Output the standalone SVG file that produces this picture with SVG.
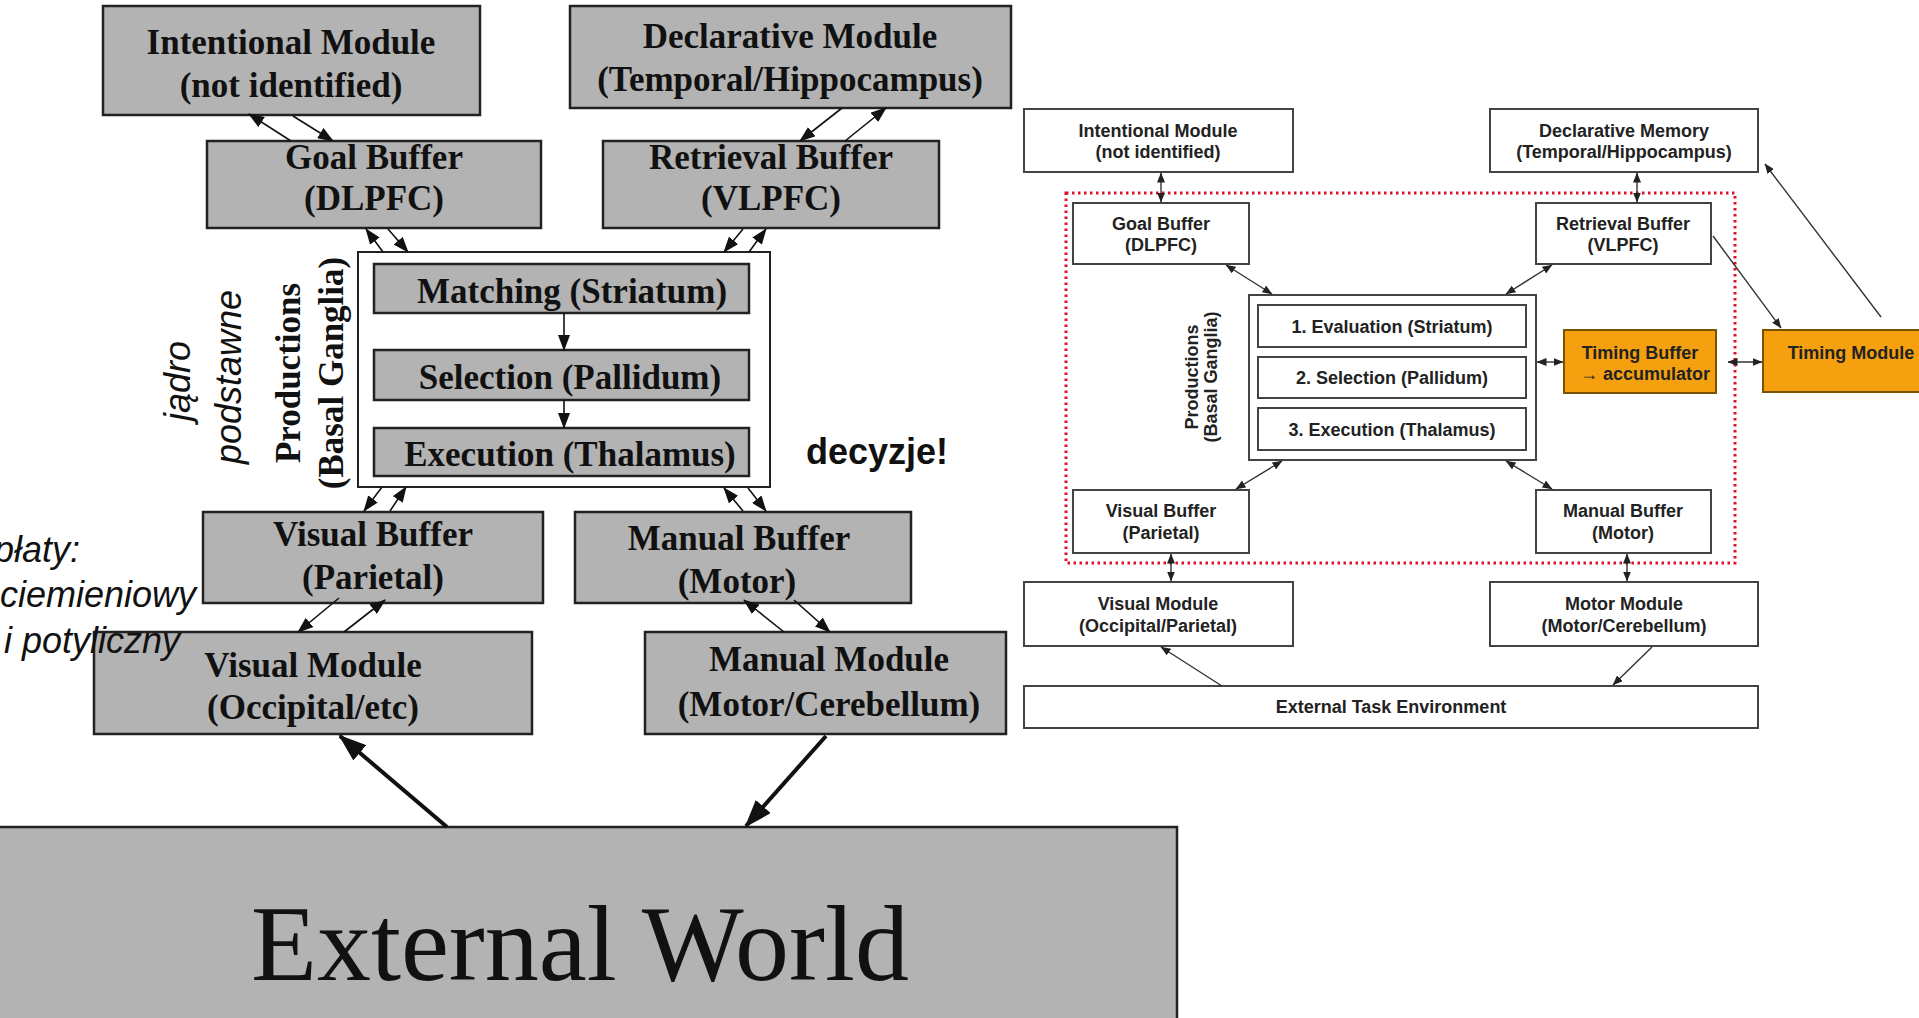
<svg xmlns="http://www.w3.org/2000/svg" width="1919" height="1018" viewBox="0 0 1919 1018">
<style>
.gb{fill:#b3b3b3;stroke:#222;stroke-width:2.5}
.wb{fill:#fff;stroke:#222;stroke-width:2}
.lt{font-family:"Liberation Serif",serif;font-weight:bold;font-size:35px;fill:#111;text-anchor:middle}
.it{font-family:"Liberation Sans",Arial,sans-serif;font-style:italic;font-size:36px;fill:#111}
.rb{fill:#fff;stroke:#444;stroke-width:2}
.ob{fill:#f5a10f;stroke:#7a5200;stroke-width:2}
.rt{font-family:"Liberation Sans",Arial,sans-serif;font-weight:bold;font-size:18px;fill:#222;text-anchor:middle}
.la{stroke:#111;stroke-width:1.6;fill:none;marker-end:url(#a1)}
.lb{stroke:#111;stroke-width:4;fill:none;marker-end:url(#a2)}
.ra{stroke:#333;stroke-width:1.4;fill:none;marker-end:url(#a3)}
.rd{stroke:#333;stroke-width:1.4;fill:none;marker-end:url(#a3);marker-start:url(#a3)}
</style>
<defs>
<marker id="a1" viewBox="0 0 16 12" refX="15" refY="6" markerWidth="16" markerHeight="12" orient="auto" markerUnits="userSpaceOnUse"><path d="M0,0 L16,6 L0,12 z" fill="#111"/></marker>
<marker id="a2" viewBox="0 0 28 20" refX="26" refY="10" markerWidth="28" markerHeight="20" orient="auto" markerUnits="userSpaceOnUse"><path d="M0,0 L28,10 L0,20 z" fill="#111"/></marker>
<marker id="a3" viewBox="0 0 10 8" refX="9.5" refY="4" markerWidth="10" markerHeight="8" orient="auto-start-reverse" markerUnits="userSpaceOnUse"><path d="M0,0 L10,4 L0,8 z" fill="#222"/></marker>
</defs>
<rect width="1919" height="1018" fill="#fff"/>

<!-- LEFT DIAGRAM -->
<g id="L-intentional"><rect class="gb" x="103" y="6" width="377" height="109"/><text class="lt" x="291" y="54">Intentional Module</text><text class="lt" x="291" y="97">(not identified)</text></g>
<g id="L-declarative"><rect class="gb" x="570" y="6" width="441" height="102"/><text class="lt" x="790" y="48">Declarative Module</text><text class="lt" x="790" y="91">(Temporal/Hippocampus)</text></g>
<g id="L-goal"><rect class="gb" x="207" y="141" width="334" height="87"/><text class="lt" x="374" y="169">Goal Buffer</text><text class="lt" x="374" y="210">(DLPFC)</text></g>
<g id="L-retrieval"><rect class="gb" x="603" y="141" width="336" height="87"/><text class="lt" x="771" y="169">Retrieval Buffer</text><text class="lt" x="771" y="210">(VLPFC)</text></g>
<g id="L-productions">
<rect class="wb" x="358" y="252" width="412" height="235"/>
<text class="lt" transform="translate(300,373) rotate(-90)">Productions</text>
<text class="lt" transform="translate(343,373) rotate(-90)">(Basal Ganglia)</text>
</g>
<g id="L-matching"><rect class="gb" x="374" y="264" width="375" height="49"/><text class="lt" x="572" y="303">Matching (Striatum)</text></g>
<g id="L-selection"><rect class="gb" x="374" y="350" width="375" height="50"/><text class="lt" x="570" y="389">Selection (Pallidum)</text></g>
<g id="L-execution"><rect class="gb" x="374" y="428" width="375" height="48"/><text class="lt" x="570" y="466">Execution (Thalamus)</text></g>
<g id="L-visualbuf"><rect class="gb" x="203" y="512" width="340" height="91"/><text class="lt" x="373" y="546">Visual Buffer</text><text class="lt" x="373" y="589">(Parietal)</text></g>
<g id="L-manualbuf"><rect class="gb" x="575" y="512" width="336" height="91"/><text class="lt" x="739" y="550">Manual Buffer</text><text class="lt" x="737" y="593">(Motor)</text></g>
<g id="L-visualmod"><rect class="gb" x="94" y="632" width="438" height="102"/><text class="lt" x="313" y="677">Visual Module</text><text class="lt" x="313" y="719">(Occipital/etc)</text></g>
<g id="L-manualmod"><rect class="gb" x="645" y="632" width="361" height="102"/><text class="lt" x="829" y="671">Manual Module</text><text class="lt" x="829" y="716">(Motor/Cerebellum)</text></g>
<g id="L-external"><rect class="gb" x="-3" y="827" width="1180" height="200"/><text x="580" y="980" font-family="'Liberation Serif',serif" font-size="108" fill="#111" text-anchor="middle">External World</text></g>

<g id="L-annotations">
<text class="it" transform="translate(190,381) rotate(-90)" text-anchor="middle">jądro</text>
<text class="it" transform="translate(241,377) rotate(-90)" text-anchor="middle">podstawne</text>
<text class="it" x="80" y="562" text-anchor="end">płaty:</text>
<text class="it" x="196" y="607" text-anchor="end">ciemieniowy</text>
<text class="it" x="180" y="653" text-anchor="end">i potyliczny</text>
<text x="806" y="464" font-family="'Liberation Sans',Arial,sans-serif" font-weight="bold" font-size="36" fill="#111">decyzje!</text>
</g>

<g id="L-connectors">
<line class="la" x1="291" y1="141" x2="249" y2="114"/>
<line class="la" x1="293" y1="116" x2="333" y2="141"/>
<line class="la" x1="842" y1="108" x2="800" y2="141"/>
<line class="la" x1="845" y1="141" x2="886" y2="108"/>
<line class="la" x1="383" y1="252" x2="366" y2="229"/>
<line class="la" x1="388" y1="229" x2="408" y2="252"/>
<line class="la" x1="743" y1="229" x2="724" y2="252"/>
<line class="la" x1="749" y1="252" x2="766" y2="229"/>
<line class="la" x1="564" y1="313" x2="564" y2="350"/>
<line class="la" x1="564" y1="400" x2="564" y2="428"/>
<line class="la" x1="382" y1="487" x2="364" y2="511"/>
<line class="la" x1="390" y1="511" x2="406" y2="487"/>
<line class="la" x1="743" y1="511" x2="724" y2="488"/>
<line class="la" x1="748" y1="488" x2="766" y2="511"/>
<line class="la" x1="339" y1="598" x2="298" y2="632"/>
<line class="la" x1="344" y1="632" x2="385" y2="600"/>
<line class="la" x1="784" y1="632" x2="744" y2="600"/>
<line class="la" x1="794" y1="600" x2="830" y2="632"/>
<line class="lb" x1="447" y1="827" x2="340" y2="736"/>
<line class="lb" x1="826" y1="736" x2="746" y2="826"/>
</g>

<!-- RIGHT DIAGRAM -->
<rect x="1066" y="193" width="669" height="370" fill="none" stroke="#e0102a" stroke-width="3" stroke-dasharray="2.5 3.5"/>
<g id="R-intentional"><rect class="rb" x="1024" y="109" width="269" height="63"/><text class="rt" x="1158" y="137">Intentional Module</text><text class="rt" x="1158" y="158">(not identified)</text></g>
<g id="R-declarative"><rect class="rb" x="1490" y="109" width="268" height="63"/><text class="rt" x="1624" y="137">Declarative Memory</text><text class="rt" x="1624" y="158">(Temporal/Hippocampus)</text></g>
<g id="R-goal"><rect class="rb" x="1073" y="203" width="176" height="61"/><text class="rt" x="1161" y="230">Goal Buffer</text><text class="rt" x="1161" y="251">(DLPFC)</text></g>
<g id="R-retrieval"><rect class="rb" x="1536" y="203" width="175" height="61"/><text class="rt" x="1623" y="230">Retrieval Buffer</text><text class="rt" x="1623" y="251">(VLPFC)</text></g>
<g id="R-productions">
<rect class="rb" x="1249" y="295" width="287" height="165"/>
<text class="rt" transform="translate(1198,377) rotate(-90)">Productions</text>
<text class="rt" transform="translate(1217,377) rotate(-90)">(Basal Ganglia)</text>
</g>
<g id="R-evaluation"><rect class="rb" x="1258" y="305" width="268" height="42"/><text class="rt" x="1392" y="333">1. Evaluation (Striatum)</text></g>
<g id="R-selection"><rect class="rb" x="1258" y="357" width="268" height="41"/><text class="rt" x="1392" y="384">2. Selection (Pallidum)</text></g>
<g id="R-execution"><rect class="rb" x="1258" y="408" width="268" height="42"/><text class="rt" x="1392" y="436">3. Execution (Thalamus)</text></g>
<g id="R-timingbuf"><rect class="ob" x="1564" y="330" width="152" height="63"/><text class="rt" x="1640" y="359">Timing Buffer</text><text class="rt" x="1645" y="380">→ accumulator</text></g>
<g id="R-timingmod"><rect class="ob" x="1763" y="330" width="180" height="62"/><text class="rt" x="1851" y="359">Timing Module</text></g>
<g id="R-visualbuf"><rect class="rb" x="1073" y="490" width="176" height="63"/><text class="rt" x="1161" y="517">Visual Buffer</text><text class="rt" x="1161" y="539">(Parietal)</text></g>
<g id="R-manualbuf"><rect class="rb" x="1536" y="490" width="175" height="63"/><text class="rt" x="1623" y="517">Manual Buffer</text><text class="rt" x="1623" y="539">(Motor)</text></g>
<g id="R-visualmod"><rect class="rb" x="1024" y="582" width="269" height="64"/><text class="rt" x="1158" y="610">Visual Module</text><text class="rt" x="1158" y="632">(Occipital/Parietal)</text></g>
<g id="R-motormod"><rect class="rb" x="1490" y="582" width="268" height="64"/><text class="rt" x="1624" y="610">Motor Module</text><text class="rt" x="1624" y="632">(Motor/Cerebellum)</text></g>
<g id="R-external"><rect class="rb" x="1024" y="686" width="734" height="42"/><text class="rt" x="1391" y="713">External Task Environment</text></g>

<g id="R-connectors">
<line class="rd" x1="1161" y1="173" x2="1161" y2="202"/>
<line class="rd" x1="1637" y1="173" x2="1637" y2="202"/>
<line class="rd" x1="1226" y1="265" x2="1272" y2="294"/>
<line class="rd" x1="1552" y1="265" x2="1506" y2="294"/>
<line class="ra" x1="1713" y1="236" x2="1781" y2="328"/>
<line class="ra" x1="1881" y1="317" x2="1765" y2="164"/>
<line class="rd" x1="1537" y1="362" x2="1563" y2="362"/>
<line class="rd" x1="1728" y1="362" x2="1762" y2="362"/>
<line class="rd" x1="1282" y1="461" x2="1236" y2="489"/>
<line class="rd" x1="1506" y1="461" x2="1552" y2="489"/>
<line class="rd" x1="1171" y1="554" x2="1171" y2="581"/>
<line class="rd" x1="1627" y1="554" x2="1627" y2="581"/>
<line class="ra" x1="1222" y1="686" x2="1161" y2="647"/>
<line class="ra" x1="1652" y1="647" x2="1613" y2="685"/>
</g>
</svg>
